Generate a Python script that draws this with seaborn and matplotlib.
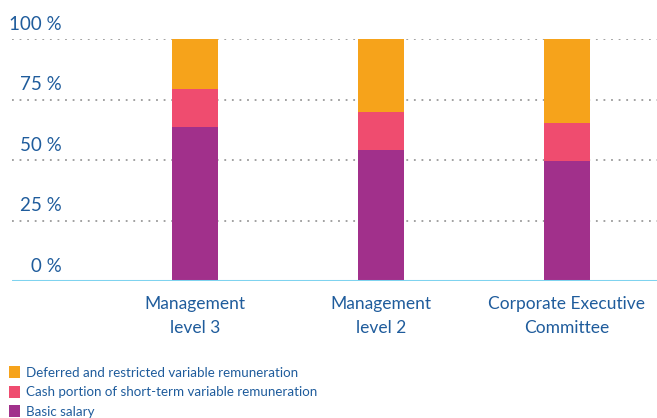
import pandas as pd
import matplotlib.pyplot as plt
import seaborn as sns
from matplotlib.patches import Patch
from matplotlib.transforms import blended_transform_factory

# --- Data ---
groups = ["Management\nlevel 3", "Management\nlevel 2", "Corporate Executive\nCommittee"]
basic_salary = [63.6, 54.1, 49.6]
cash_portion = [15.7, 15.7, 15.7]
deferred = [20.7, 30.2, 34.7]
y_ticks = [0, 25, 50, 75, 100]
y_tick_labels = ["0 %", "25 %", "50 %", "75 %", "100 %"]

series_names = ["Deferred and restricted variable remuneration",
                "Cash portion of short-term variable remuneration",
                "Basic salary"]
colors = ["#f6a31b", "#ef4c6f", "#a1308b"]
text_blue = "#1f5c9c"

df = pd.DataFrame({"group": groups,
                   "basic": basic_salary,
                   "cash": cash_portion,
                   "deferred": deferred})
df["cash_top"] = df["basic"] + df["cash"]
df["total"] = df["cash_top"] + df["deferred"]

sns.set_style("white")
plt.rcParams['font.family'] = ['Lato', 'DejaVu Sans']

fig = plt.figure(figsize=(6.57, 4.18), dpi=100)
ax = fig.add_axes([12 / 657, 137 / 418, 645 / 657, 242 / 418])

# stacked bars: draw cumulative totals back to front
for col, color in zip(["total", "cash_top", "basic"], colors):
    sns.barplot(data=df, x="group", y=col, color=color, width=0.247,
                saturation=1, linewidth=0, ax=ax, zorder=3)

ax.set_xlim(-0.984, 2.484)
ax.set_ylim(0, 100)

# dotted grid
for t in y_ticks[1:]:
    ax.axhline(t, color="#9a9a9a", linestyle=(0, (1, 3.2)), linewidth=1.3, zorder=1)
ax.axhline(0, color="#7fd3ef", linewidth=2.2, zorder=4)

# y labels sit above the grid lines
trans = blended_transform_factory(ax.transAxes, ax.transData)
for t, lab in zip(y_ticks, y_tick_labels):
    ax.text(0.0775, t + 2.6, lab, transform=trans, ha="right", va="bottom",
            fontsize=13.5, color=text_blue, clip_on=False)

ax.set_yticks([])
ax.set_xlabel("")
ax.set_ylabel("")
ax.tick_params(axis="x", length=0, pad=10.5, labelsize=12.5, labelcolor=text_blue)
for lab in ax.get_xticklabels():
    lab.set_linespacing(1.65)
sns.despine(ax=ax, left=True, bottom=True)

handles = [Patch(facecolor=c, edgecolor="none") for c in colors]
fig.legend(handles, series_names, loc="upper left", bbox_to_anchor=(9 / 657, 0.124),
           frameon=False, fontsize=9.6, labelcolor=text_blue,
           handlelength=0.83, handleheight=1.0, handletextpad=0.45,
           labelspacing=0.52, borderaxespad=0, borderpad=0.0)

fig.savefig("out.png", dpi=100)
